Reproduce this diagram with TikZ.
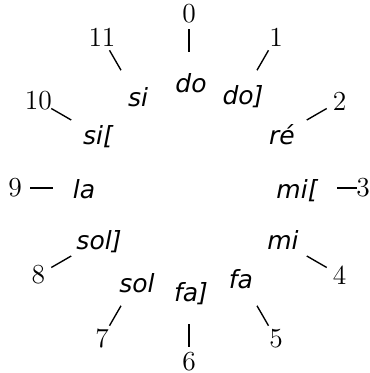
\documentclass[tikz,border=0pt]{standalone}
\usepackage{fontspec}
\usepackage{tikz}
\newfontfamily\notafont{DejaVu Sans}
\tikzset{
  numero/.style={font=\fontsize{11}{13}\selectfont, inner sep=0pt},
  nota/.style={font=\fontsize{10}{12}\notafont\itshape, anchor=base, inner sep=0pt},
  marca/.style={line width=0.55pt},
}

\begin{document}
\begin{tikzpicture}[x=0.4pt,y=0.4pt]
  \useasboundingbox (-189,-185) rectangle (181,188);
  \node[numero] (n0) at (90:174) {0};
  \node[numero] (n1) at (60:174) {1};
  \node[numero] (n2) at (30:174) {2};
  \node[numero] (n3) at (0:174) {3};
  \node[numero] (n4) at (-30:174) {4};
  \node[numero] (n5) at (-60:174) {5};
  \node[numero] (n6) at (-90:174) {6};
  \node[numero] (n7) at (-120:174) {7};
  \node[numero] (n8) at (-150:174) {8};
  \node[numero] (n9) at (180:174) {9};
  \node[numero] (n10) at (150:174) {10};
  \node[numero] (n11) at (120:174) {11};
  \draw[marca] (90:136) -- (90:159);
  \draw[marca] (60:136) -- (60:159);
  \draw[marca] (30:136) -- (30:159);
  \draw[marca] (0:148) -- (0:168);
  \draw[marca] (-30:136) -- (-30:159);
  \draw[marca] (-60:136) -- (-60:159);
  \draw[marca] (-90:136) -- (-90:159);
  \draw[marca] (-120:136) -- (-120:159);
  \draw[marca] (-150:136) -- (-150:159);
  \draw[marca] (180:136) -- (180:159);
  \draw[marca] (150:136) -- (150:159);
  \draw[marca] (120:136) -- (120:159);
  \node[nota] (do) at (2,95) {do};
  \node[nota] (dos) at (54,83) {do]};
  \node[nota] (re) at (93,43) {ré};
  \node[nota] (mib) at (108,-10) {mi[};
  \node[nota] (mi) at (94,-61) {mi};
  \node[nota] (fa) at (52,-100) {fa};
  \node[nota] (fas) at (2,-113) {fa]};
  \node[nota] (sol) at (-52,-104) {sol};
  \node[nota] (sols) at (-90,-61) {sol]};
  \node[nota] (la) at (-105,-10) {la};
  \node[nota] (sib) at (-91,43) {si[};
  \node[nota] (si) at (-51,81) {si};
\end{tikzpicture}
\end{document}
